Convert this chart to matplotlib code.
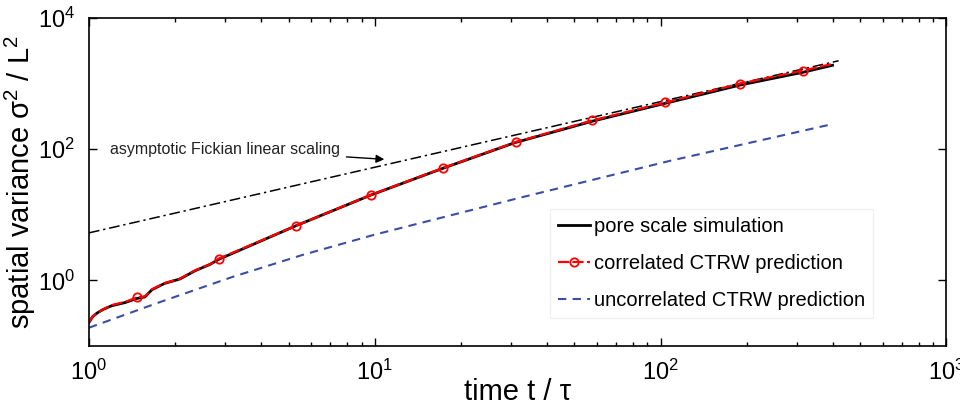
import numpy as np
import matplotlib
matplotlib.use('Agg')
import matplotlib.pyplot as plt

plt.rcParams['font.family'] = ['Liberation Sans', 'DejaVu Sans']
plt.rcParams['mathtext.default'] = 'regular'

# pore scale simulation (black)
t_sim = [1.00, 1.03, 1.07, 1.12, 1.20, 1.34, 1.47, 1.57, 1.66, 1.84, 2.08, 2.35,
         2.65, 2.85, 5.3, 9.7, 17.3, 31.0, 58.0, 104.0, 190.0, 314.0, 400.0]
s_sim = [0.23, 0.28, 0.32, 0.36, 0.41, 0.46, 0.53, 0.56, 0.72, 0.90, 1.05, 1.40,
         1.75, 2.10, 6.8, 20.0, 51.0, 126.0, 268.0, 500.0, 950.0, 1480.0, 1900.0]

# correlated CTRW prediction (red)
t_ctrw = [1.00, 1.03, 1.07, 1.12, 1.20, 1.34, 1.47, 1.57, 1.66, 1.84, 2.08, 2.35,
          2.65, 2.85, 5.3, 9.7, 17.3, 31.1, 57.8, 104.0, 190.0, 314.0, 403.0]
s_ctrw = [0.23, 0.28, 0.32, 0.36, 0.42, 0.47, 0.55, 0.57, 0.73, 0.91, 1.06, 1.42,
          1.76, 2.15, 6.8, 20.1, 51.5, 128.0, 275.0, 515.0, 1000.0, 1574.0, 2010.0]
marks = [6, 13, 14, 15, 16, 17, 18, 19, 20, 21]

# uncorrelated CTRW prediction (blue)
t_unc = [1.0, 1.78, 3.16, 5.6, 10.0, 31.6, 107.0, 396.0]
s_unc = [0.19, 0.47, 1.12, 2.45, 4.98, 17.8, 65.8, 239.0]

# asymptotic Fickian scaling
t_fick = [1.0, 420.0]
s_fick = [5.3, 2226.0]

fig = plt.figure(figsize=(9.6, 4.08), dpi=100)
ax = fig.add_axes([0.0927, 0.152, 0.893, 0.804])

ax.plot(t_fick, s_fick, color='black', lw=1.1, dashes=(7, 2.5, 1.5, 2.5))
ax.plot(t_unc, s_unc, color='#3b4ea6', lw=1.5, dashes=(4, 3),
        label='uncorrelated CTRW prediction')
ax.plot(t_sim, s_sim, color='black', lw=2.0, label='pore scale simulation')
ax.plot(t_ctrw, s_ctrw, color='red', lw=1.6, dashes=(5, 1.5), marker='o',
        markevery=marks, ms=6, mfc='none', mew=1.3,
        label='correlated CTRW prediction')

ax.set_xscale('log')
ax.set_yscale('log')
ax.set_xlim(1, 1000)
ax.set_ylim(0.1, 1e4)
ax.set_yticks([1, 100, 1e4])
ax.set_yticks([], minor=True)
ax.set_xticks([1, 10, 100, 1000])
ax.tick_params(which='both', direction='in', top=True, right=True,
               labelsize=17, width=1.0)
ax.tick_params(which='major', length=6, pad=10)
ax.tick_params(which='minor', length=3)
for s in ax.spines.values():
    s.set_linewidth(1.2)

ax.set_xlabel('time t / τ', fontsize=21, labelpad=-5)
ax.set_ylabel('spatial variance σ$^2$ / L$^2$', fontsize=21, labelpad=0)

ax.annotate('asymptotic Fickian linear scaling', xy=(10.8, 70), xytext=(1.18, 100),
            fontsize=11.5, color='#222222', va='center', ha='left',
            arrowprops=dict(arrowstyle='-|>', color='black', lw=1.0,
                            shrinkA=3, shrinkB=0, mutation_scale=12))

h, l = ax.get_legend_handles_labels()
order = [1, 2, 0]
ax.legend([h[i] for i in order], [l[i] for i in order], loc='lower left',
          bbox_to_anchor=(0.538, 0.085), borderaxespad=0, fontsize=14.5,
          handlelength=1.6, handletextpad=0.15, labelspacing=0.9,
          borderpad=0.4, frameon=True, fancybox=False, edgecolor='#f0f0f0',
          framealpha=1)

fig.savefig('out.png', dpi=100)
